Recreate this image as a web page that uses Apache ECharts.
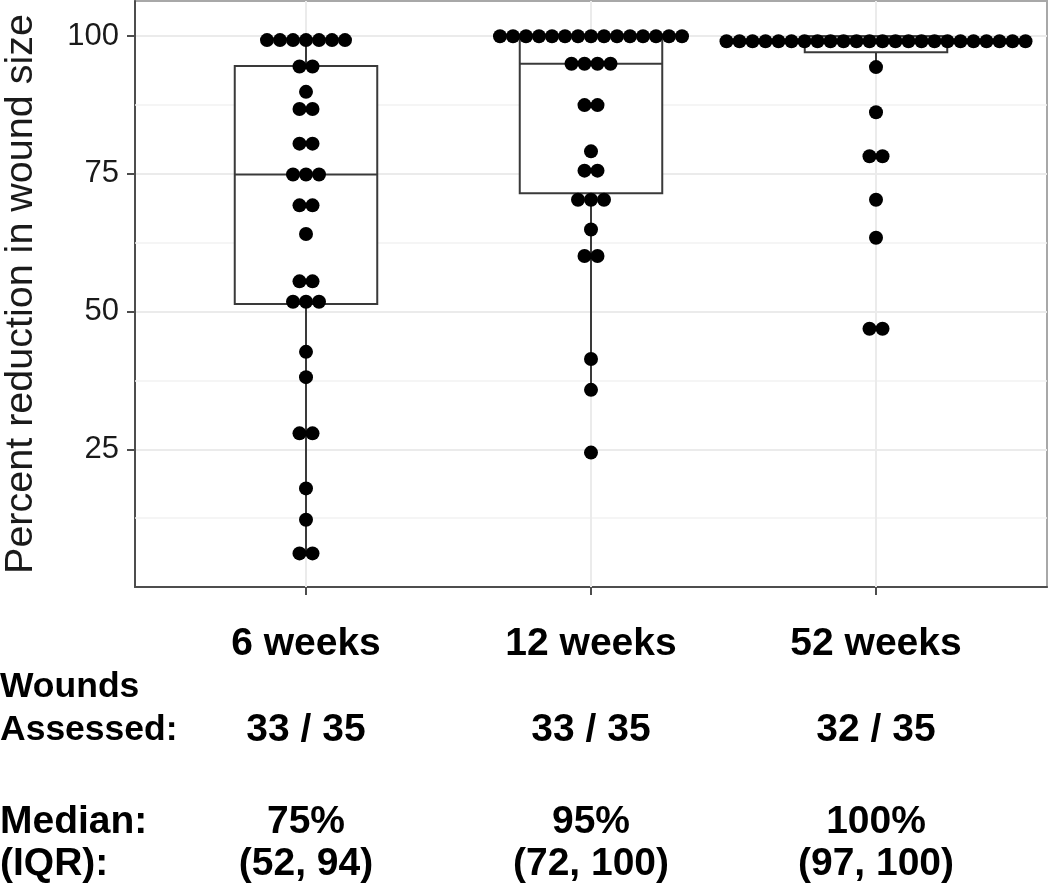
<!DOCTYPE html>
<html>
<head>
<meta charset="utf-8">
<script src="https://cdn.jsdelivr.net/npm/echarts@6/dist/echarts.min.js"></script>
<style>
  html, body { margin: 0; padding: 0; background: #fff; }
  #chart { width: 1050px; height: 887px; }
</style>
</head>
<body>
<div id="chart"></div>
<script>
// ---------- data ----------
const categories = ['6 weeks', '12 weeks', '52 weeks'];
const assessed = ['33 / 35', '33 / 35', '32 / 35'];
const medianText = ['75%', '95%', '100%'];
const iqrText = ['(52, 94)', '(72, 100)', '(97, 100)'];
const yTicks = [25, 50, 75, 100];
const rowLabels = ['Wounds', 'Assessed:', 'Median:', '(IQR):'];

// dot-plot bins: value and number of stacked dots
const weeks6Values  = [99.3, 94.5, 89.9, 86.8, 80.5, 74.9, 69.3, 64.1, 55.5, 51.8, 42.7, 38.1, 27.9, 17.9, 12.2, 6.1];
const weeks6Counts  = [7, 2, 1, 2, 2, 3, 2, 1, 2, 3, 1, 1, 2, 1, 1, 2];
const weeks12Values = [100, 95.0, 87.5, 79.1, 75.6, 70.3, 64.9, 60.1, 41.4, 35.8, 24.4];
const weeks12Counts = [15, 4, 2, 1, 2, 3, 1, 2, 1, 1, 1];
const weeks52Values = [99.1, 94.4, 86.2, 78.2, 70.3, 63.4, 46.9];
const weeks52Counts = [24, 1, 1, 2, 1, 1, 2];

// box statistics: [lower whisker, Q1, median, Q3, upper whisker]
const weeks6Box  = [6.1, 51.4, 74.9, 94.6, 99.3];
const weeks12Box = [35.8, 71.5, 95.0, 100, 100];
const weeks52Box = [94.4, 97.1, 100, 100, 100];

// ---------- build ----------
const FONT = '"Liberation Sans", Arial, Helvetica, sans-serif';
const DOT_STEP = 13;
const DOT_SIZE = 14;
const binSets = [[weeks6Values, weeks6Counts], [weeks12Values, weeks12Counts], [weeks52Values, weeks52Counts]];
const boxes = [weeks6Box, weeks12Box, weeks52Box];

const dotData = [];
binSets.forEach(function (set, ci) {
  const vals = set[0], cnts = set[1];
  vals.forEach(function (v, k) {
    const n = cnts[k];
    for (let i = 0; i < n; i++) {
      dotData.push({ value: [ci + 1, v], symbolOffset: [(i - (n - 1) / 2) * DOT_STEP, 0] });
    }
  });
});
const boxData = boxes.map(function (b, ci) { return [ci + 1].concat(b); });

const chart = echarts.init(document.getElementById('chart'), null, { renderer: 'canvas' });

const option = {
  animation: false,
  backgroundColor: '#fff',
  grid: {
    left: 135, right: 3, top: 1, bottom: 300,
    containLabel: false, outerBoundsMode: 'none',
    show: true, borderColor: '#a8a8a8', borderWidth: 2, backgroundColor: 'transparent'
  },
  xAxis: {
    type: 'value', min: 0.4, max: 3.6,
    axisLine: { show: true, onZero: false, lineStyle: { color: '#4d4d4d', width: 2 } },
    axisTick: { show: true, customValues: [1, 2, 3], length: 8, lineStyle: { color: '#4d4d4d', width: 2 } },
    axisLabel: { show: false },
    splitLine: { show: false }
  },
  yAxis: {
    type: 'value', min: 0, max: 106.4, interval: 25,
    name: 'Percent reduction in wound size',
    nameLocation: 'middle', nameGap: 94,
    nameTextStyle: { fontSize: 39.5, fontFamily: FONT, color: '#1a1a1a' },
    axisLine: { show: true, lineStyle: { color: '#4d4d4d', width: 2 } },
    axisTick: { show: true, customValues: yTicks, length: 8, lineStyle: { color: '#4d4d4d', width: 2 } },
    axisLabel: { customValues: yTicks, fontSize: 31, fontFamily: FONT, color: '#1a1a1a', margin: 16 },
    splitLine: { show: true, lineStyle: { color: '#ebebeb', width: 2 } }
  },
  series: [
    {
      type: 'line', data: [], z: 1, silent: true,
      markLine: {
        z: 1, silent: true, symbol: 'none', label: { show: false }, animation: false,
        data: [
          { yAxis: 12.5, lineStyle: { color: '#f2f2f2', width: 1.5, type: 'solid' } },
          { yAxis: 37.5, lineStyle: { color: '#f2f2f2', width: 1.5, type: 'solid' } },
          { yAxis: 62.5, lineStyle: { color: '#f2f2f2', width: 1.5, type: 'solid' } },
          { yAxis: 87.5, lineStyle: { color: '#f2f2f2', width: 1.5, type: 'solid' } },
          { xAxis: 1, lineStyle: { color: '#ebebeb', width: 2, type: 'solid' } },
          { xAxis: 2, lineStyle: { color: '#ebebeb', width: 2, type: 'solid' } },
          { xAxis: 3, lineStyle: { color: '#ebebeb', width: 2, type: 'solid' } }
        ]
      }
    },
    {
      type: 'custom', z: 6, silent: true,
      data: boxData,
      encode: { x: 0, y: [1, 2, 3, 4, 5] },
      renderItem: function (params, api) {
        const x = api.value(0);
        const lo = api.coord([x, api.value(1)]);
        const q1 = api.coord([x, api.value(2)]);
        const md = api.coord([x, api.value(3)]);
        const q3 = api.coord([x, api.value(4)]);
        const hi = api.coord([x, api.value(5)]);
        const hw = api.size([0.5, 0])[0] / 2;
        const st = { stroke: '#3a3a3a', lineWidth: 2 };
        return {
          type: 'group',
          children: [
            { type: 'line', shape: { x1: lo[0], y1: lo[1], x2: q1[0], y2: q1[1] }, style: st },
            { type: 'line', shape: { x1: q3[0], y1: q3[1], x2: hi[0], y2: hi[1] }, style: st },
            { type: 'rect', shape: { x: q1[0] - hw, y: q3[1], width: 2 * hw, height: q1[1] - q3[1] }, style: { fill: '#fff', stroke: '#3a3a3a', lineWidth: 2 } },
            { type: 'line', shape: { x1: md[0] - hw, y1: md[1], x2: md[0] + hw, y2: md[1] }, style: st }
          ]
        };
      }
    },
    {
      type: 'scatter', z: 8, silent: true,
      symbol: 'circle', symbolSize: DOT_SIZE,
      itemStyle: { color: '#000', opacity: 1 },
      data: dotData
    }
  ]
};
chart.setOption(option);

// ---------- table text under the axis ----------
const textEls = [];
function txt(str, x, y, align, size) {
  return {
    type: 'text', silent: true,
    style: {
      text: str, x: x, y: y,
      font: 'bold ' + size + 'px ' + FONT, fill: '#000',
      align: align, textAlign: align,
      verticalAlign: 'middle', textVerticalAlign: 'middle'
    }
  };
}
const rowY = { cat: 644, wounds: 687, assessed: 730, median: 822, iqr: 864 };
categories.forEach(function (c, i) {
  const px = chart.convertToPixel({ xAxisIndex: 0 }, i + 1);
  textEls.push(txt(c, px, rowY.cat, 'center', 39));
  textEls.push(txt(assessed[i], px, rowY.assessed, 'center', 39));
  textEls.push(txt(medianText[i], px, rowY.median, 'center', 39));
  textEls.push(txt(iqrText[i], px, rowY.iqr, 'center', 39));
});
textEls.push(txt(rowLabels[0], 0, rowY.wounds, 'left', 35.5));
textEls.push(txt(rowLabels[1], 0, rowY.assessed, 'left', 35.5));
textEls.push(txt(rowLabels[2], 0, rowY.median, 'left', 39));
textEls.push(txt(rowLabels[3], 0, rowY.iqr, 'left', 39));
chart.setOption({ graphic: { elements: textEls } });
</script>
</body>
</html>
